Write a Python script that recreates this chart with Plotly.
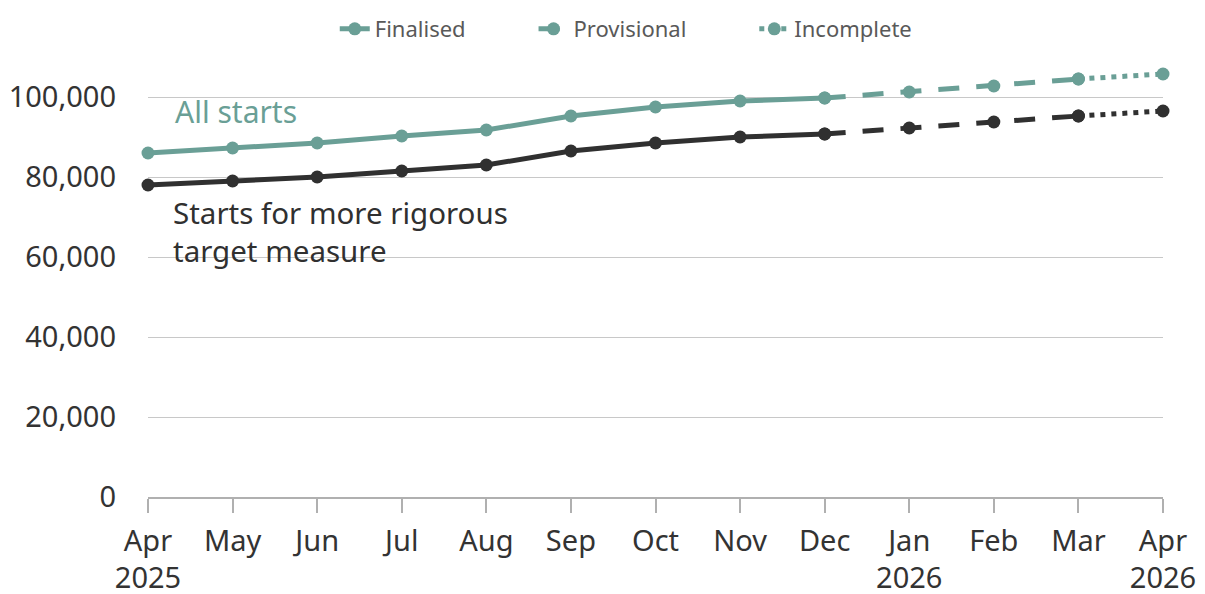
import plotly.graph_objects as go

months = ["Apr<br>2025", "May", "Jun", "Jul", "Aug", "Sep", "Oct", "Nov", "Dec",
          "Jan<br>2026", "Feb", "Mar", "Apr<br>2026"]
all_starts = [86000, 87250, 88500, 90250, 91750, 95250, 97500, 99000, 99750,
              101250, 102750, 104500, 105750]
rigorous = [78000, 79000, 80000, 81500, 83000, 86500, 88500, 90000, 90750,
            92250, 93750, 95250, 96500]
y_ticks = [0, 20000, 40000, 60000, 80000, 100000]

TEAL = "#6a9f96"
DARK = "#303030"
FONT = "Noto Sans"
PAD = "\u00a0" * 11

x = list(range(len(months)))
segments = [
    ("Finalised", 0, 8, "solid"),
    ("Provisional", 8, 11, "21px,17px"),
    ("Incomplete", 11, 12, "5px,6px"),
]

fig = go.Figure()
for series, color, show in [(all_starts, TEAL, True), (rigorous, DARK, False)]:
    for name, a, b, dash in segments:
        fig.add_trace(go.Scatter(
            x=x[a:b + 1], y=series[a:b + 1], mode="lines+markers",
            name=name + PAD if name != "Incomplete" else name,
            line=dict(color=color, width=5, dash=dash),
            marker=dict(color=color, size=13),
            showlegend=show, cliponaxis=False,
        ))

fig.add_annotation(x=0.30, y=96300, text="All starts", showarrow=False,
                   xanchor="left", yanchor="middle",
                   font=dict(family=FONT, size=30, color=TEAL))
fig.add_annotation(x=0.27, y=66300, text="Starts for more rigorous<br>target measure",
                   showarrow=False, xanchor="left", yanchor="middle", align="left",
                   font=dict(family=FONT, size=29.5, color=DARK))

fig.update_layout(
    width=1205, height=594,
    margin=dict(l=140, r=50, t=49, b=105, autoexpand=False),
    plot_bgcolor="white", paper_bgcolor="white",
    font=dict(family=FONT, size=29, color="#333333"),
    legend=dict(orientation="h", x=0.184, xanchor="left", y=1.0, yanchor="top",
                yref="container", font=dict(family=FONT, size=22, color="#595959"),
                traceorder="normal"),
    xaxis=dict(range=[0, 12], tickvals=x, ticktext=months, showgrid=False,
               showline=True, linecolor="#b0b0b0", linewidth=1.5,
               ticks="outside", ticklen=14, tickcolor="#b0b0b0", tickwidth=1.5,
               ticklabelstandoff=3, zeroline=False, automargin=False,
               tickfont=dict(family=FONT, size=29, color="#333333")),
    yaxis=dict(range=[0, 110000], tickvals=y_ticks, tickformat=",",
               showgrid=True, gridcolor="#c8c8c8", gridwidth=1.2,
               zeroline=False, showline=False, ticks="", automargin=False,
               ticklabelstandoff=31,
               tickfont=dict(family=FONT, size=29, color="#333333")),
)

fig.write_html("out.html")
